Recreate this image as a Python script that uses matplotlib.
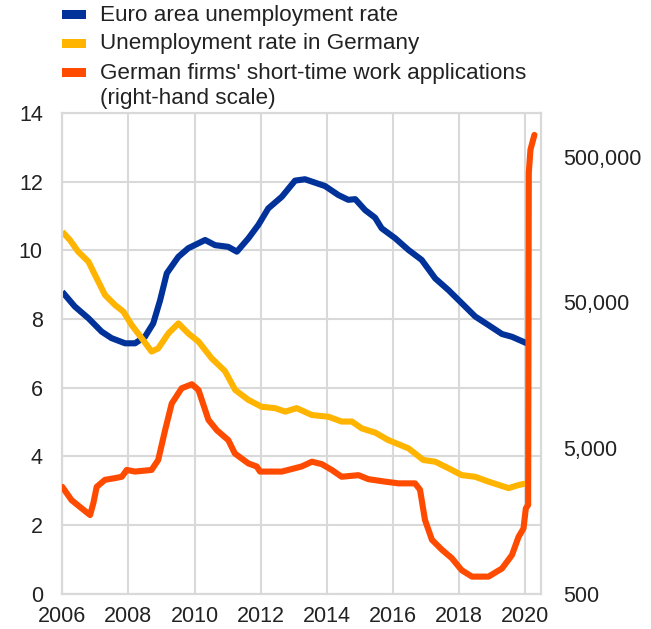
import matplotlib
matplotlib.use("Agg")
import matplotlib.pyplot as plt
from matplotlib.patches import Rectangle
from matplotlib.ticker import FixedLocator, NullLocator

# ---------------- data ----------------
ea_x = [2006.00, 2006.38, 2006.79, 2007.19, 2007.49, 2007.90, 2008.20, 2008.50, 2008.75,
        2008.96, 2009.16, 2009.51, 2009.81, 2010.32, 2010.62, 2011.02, 2011.28, 2011.63,
        2011.93, 2012.23, 2012.64, 2013.04, 2013.34, 2013.95, 2014.35, 2014.65, 2014.86,
        2015.16, 2015.46, 2015.66, 2016.07, 2016.47, 2016.87, 2017.28, 2017.68, 2018.08,
        2018.49, 2018.89, 2019.30, 2019.60, 2020.05]
ea_unemp = [8.79, 8.36, 8.02, 7.63, 7.44, 7.29, 7.29, 7.48, 7.87,
            8.55, 9.33, 9.81, 10.06, 10.30, 10.15, 10.10, 9.96, 10.35,
            10.74, 11.22, 11.56, 12.03, 12.07, 11.87, 11.61, 11.47, 11.49,
            11.17, 10.95, 10.64, 10.35, 10.01, 9.72, 9.18, 8.84, 8.46,
            8.07, 7.82, 7.56, 7.48, 7.29]

de_x = [2006.00, 2006.23, 2006.48, 2006.79, 2006.99, 2007.29, 2007.59, 2007.85, 2008.10,
        2008.40, 2008.70, 2008.90, 2009.21, 2009.51, 2009.81, 2010.12, 2010.52, 2010.92,
        2011.23, 2011.63, 2012.03, 2012.44, 2012.74, 2013.09, 2013.55, 2014.05, 2014.45,
        2014.76, 2015.06, 2015.46, 2015.86, 2016.47, 2016.92, 2017.28, 2017.68, 2018.08,
        2018.49, 2018.89, 2019.50, 2019.80, 2020.05]
de_unemp = [10.54, 10.30, 9.96, 9.67, 9.28, 8.70, 8.41, 8.21, 7.82,
            7.44, 7.05, 7.14, 7.58, 7.87, 7.58, 7.34, 6.85, 6.48,
            5.93, 5.64, 5.44, 5.40, 5.30, 5.40, 5.20, 5.15, 5.01,
            5.01, 4.81, 4.69, 4.47, 4.23, 3.89, 3.84, 3.65, 3.45,
            3.40, 3.26, 3.07, 3.16, 3.21]

stw_x = [2006.00, 2006.28, 2006.59, 2006.84, 2006.94, 2007.04, 2007.29, 2007.59, 2007.80,
         2007.95, 2008.20, 2008.70, 2008.90, 2009.11, 2009.31, 2009.61, 2009.92, 2010.12,
         2010.42, 2010.68, 2011.02, 2011.22, 2011.63, 2011.88, 2011.98, 2012.64, 2013.24,
         2013.55, 2013.85, 2014.15, 2014.45, 2014.96, 2015.26, 2015.76, 2016.17, 2016.67,
         2016.82, 2016.97, 2017.18, 2017.48, 2017.78, 2018.08, 2018.39, 2018.89, 2019.30,
         2019.60, 2019.80, 2019.95, 2020.02, 2020.09, 2020.11, 2020.16, 2020.28]
stw_apps = [2700, 2190, 1920, 1730, 2090, 2700, 3020, 3100, 3170,
            3530, 3440, 3530, 4130, 6630, 10100, 12850, 13700, 12500,
            7800, 6600, 5660, 4580, 3910, 3730, 3440, 3440, 3730,
            4020, 3870, 3530, 3170, 3250, 3050, 2935, 2855, 2855,
            2580, 1600, 1170, 1000, 875, 723, 653, 653, 743,
            918, 1225, 1400, 1920, 2030, 387000, 560000, 707000]

x_ticks = [2006, 2008, 2010, 2012, 2014, 2016, 2018, 2020]
left_ticks = [0, 2, 4, 6, 8, 10, 12, 14]
right_ticks = [500, 5000, 50000, 500000]
right_labels = ["500", "5,000", "50,000", "500,000"]

labels = ["Euro area unemployment rate",
          "Unemployment rate in Germany",
          "German firms' short-time work applications\n(right-hand scale)"]

# ---------------- style ----------------
BLUE = "#003299"
YELLOW = "#FFB400"
ORANGE = "#FF4B00"
GRID = "#d9d9d9"
TXT = "#222222"
FS = 15.5
FS_LEG = 16.2
plt.rcParams["font.family"] = ["Liberation Sans", "DejaVu Sans"]

W, H = 651, 629
fig = plt.figure(figsize=(W / 100, H / 100), dpi=100)
ax = fig.add_axes([62.3 / W, 1 - 593.5 / H, (540.7 - 62.3) / W, (593.5 - 113) / H])
ax2 = ax.twinx()

lw = 4.4
ax.plot(ea_x, ea_unemp, color=BLUE, lw=lw, solid_capstyle="butt", solid_joinstyle="round", zorder=3)
ax.plot(de_x, de_unemp, color=YELLOW, lw=lw, solid_capstyle="butt", solid_joinstyle="round", zorder=4)
ax2.plot(stw_x, stw_apps, color=ORANGE, lw=lw, solid_capstyle="round", solid_joinstyle="round", zorder=3)

ax.set_xlim(2006, 2020.47)
ax.set_ylim(0, 14)
ax2.set_yscale("log")
ax2.set_ylim(500, 1_000_000)

ax.set_xticks(x_ticks)
ax.set_yticks(left_ticks)
ax.grid(True, color=GRID, lw=1.5)
ax.set_axisbelow(True)
ax.tick_params(axis="both", length=0, labelsize=FS, labelcolor=TXT)
ax.tick_params(axis="y", pad=14)
ax.tick_params(axis="x", pad=9)

ax2.yaxis.set_major_locator(FixedLocator(right_ticks))
ax2.set_yticklabels(right_labels)
ax2.yaxis.set_minor_locator(NullLocator())
ax2.tick_params(axis="y", which="both", length=0, labelsize=FS, labelcolor=TXT, pad=16)

for a in (ax, ax2):
    for s in a.spines.values():
        s.set_color(GRID)
        s.set_linewidth(1.5)

# ---------------- legend ----------------
colors = [BLUE, YELLOW, ORANGE]
rows_y = [14.5, 43.5, 72.5]
for c, lab, yy in zip(colors, labels, rows_y):
    fig.patches.append(Rectangle((62 / W, 1 - (yy + 4.2) / H), 23.5 / W, 8.4 / H,
                                 transform=fig.transFigure, facecolor=c, edgecolor="none"))
    fig.text(100 / W, 1 - (yy - 10) / H, lab, ha="left", va="top", fontsize=FS_LEG,
             color=TXT, linespacing=1.28)

fig.savefig("out.png", dpi=100)
